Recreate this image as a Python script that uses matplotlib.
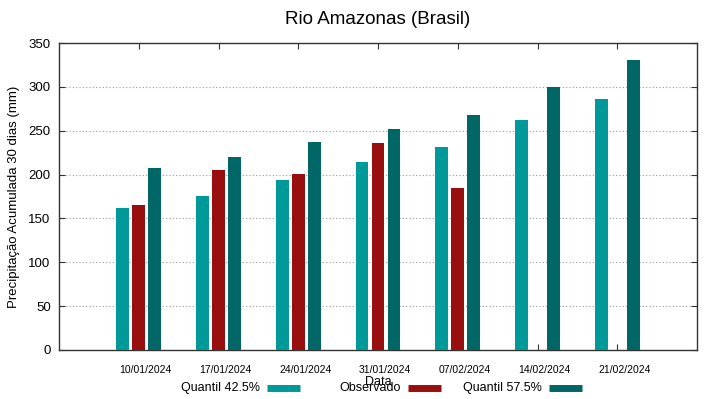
import matplotlib
matplotlib.use("Agg")
import matplotlib.pyplot as plt
from matplotlib.lines import Line2D
import numpy as np

plt.rcParams['font.family'] = ['Liberation Sans', 'DejaVu Sans']

# dados
datas = ['10/01/2024', '17/01/2024', '24/01/2024', '31/01/2024',
         '07/02/2024', '14/02/2024', '21/02/2024']
q425 = [162, 175.7, 193.9, 214.8, 231, 262.3, 286.5]
observado = [165.5, 204.9, 201, 236.4, 185, np.nan, np.nan]
q575 = [207.6, 219.7, 237.5, 252.4, 267.5, 299.4, 330.2]
series = ['Quantil 42.5%', 'Observado', 'Quantil 57.5%']

cor_q425 = '#009999'
cor_obs = '#990e0e'
cor_q575 = '#006666'

fig = plt.figure(figsize=(7.19, 3.99), dpi=100)
ax = fig.add_axes([59 / 719, 49 / 399, 638 / 719, 307 / 399])

x = np.arange(len(datas))
w = 0.16
ax.bar(x - 0.2, q425, w, color=cor_q425, zorder=3)
ax.bar(x, observado, w, color=cor_obs, zorder=3)
ax.bar(x + 0.2, q575, w, color=cor_q575, zorder=3)

ax.set_xlim(-1, 7)
ax.set_ylim(0, 350)
ax.set_yticks(np.arange(0, 351, 50))
# ticks no centro do grupo, rotulos um pouco a direita (como no gnuplot)
ax.set_xticks(x)
ax.set_xticklabels([])
ax.set_xticks(x + 0.088, minor=True)
ax.set_xticklabels(datas, minor=True, fontsize=7.5)

ax.tick_params(axis='both', which='major', direction='in', top=True, right=True,
               length=4, width=0.8, color='#333333')
ax.tick_params(axis='x', which='minor', length=0, pad=11)
ax.tick_params(axis='y', labelsize=9.5, pad=6)
for s in ax.spines.values():
    s.set_color('#333333')
    s.set_linewidth(1)

ax.grid(axis='y', linestyle=(0, (1, 2)), color='#999999', linewidth=0.8, zorder=0)

ax.set_title('Rio Amazonas (Brasil)', fontsize=13.5, pad=14)
ax.set_ylabel('Precipitação Acumulada 30 dias (mm)', fontsize=9.5, labelpad=6)
ax.set_xlabel('Data', fontsize=9)
ax.xaxis.set_label_coords(0.5, -0.085)

# legenda estilo gnuplot: colunas de mesma largura, texto alinhado a direita
y_leg = 1 - 388 / 399
for i, (nome, cor) in enumerate(zip(series, (cor_q425, cor_obs, cor_q575))):
    x0 = (267 + 141 * i) / 719
    fig.text(x0 - 7 / 719, y_leg, nome, ha='right', va='center', fontsize=9)
    fig.add_artist(Line2D([x0, x0 + 33 / 719], [y_leg, y_leg], color=cor,
                          lw=5, solid_capstyle='butt', transform=fig.transFigure))

fig.savefig('out.png', dpi=100)
